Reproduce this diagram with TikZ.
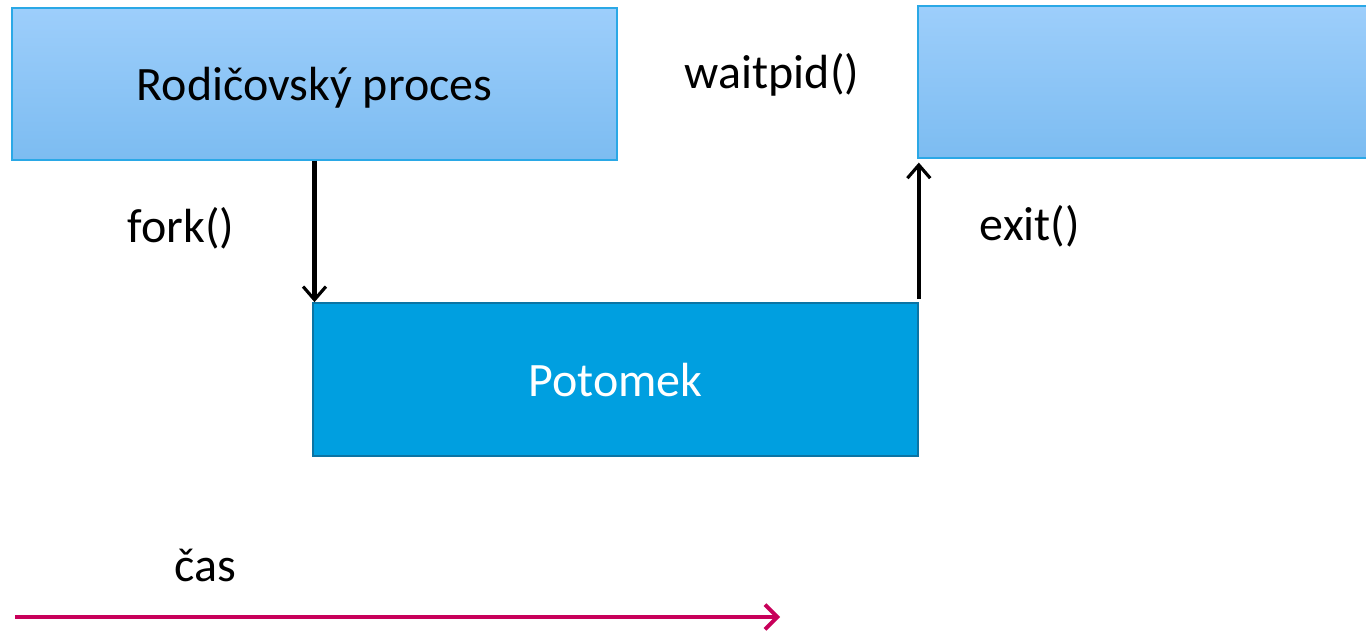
\documentclass[tikz,border=0pt]{standalone}
\usepackage{fontspec}
\setmainfont{Carlito}
\usetikzlibrary{arrows.meta,positioning}
\definecolor{lightproc}{HTML}{9DCEFB}
\definecolor{lightprocb}{HTML}{7CBCF1}
\definecolor{procline}{HTML}{2AA8E6}
\definecolor{childfill}{HTML}{009FE0}
\definecolor{childline}{HTML}{0B74A4}
\definecolor{timeline}{HTML}{C8005A}
\tikzset{
    >={Straight Barb[length=7.5pt,width=13pt,line width=1.8pt]},
    parentbox/.style={draw=procline, line width=0.7pt, top color=lightproc,
        bottom color=lightprocb, minimum width=12.1cm, minimum height=3.04cm,
        inner sep=0pt, text depth=0pt, font=\fontsize{27.3}{32}\selectfont},
    childbox/.style={draw=childline, line width=1pt, fill=childfill, text=white,
        minimum width=12.1cm, minimum height=3.06cm, inner sep=0pt,
        text depth=0pt, font=\fontsize{27.3}{32}\selectfont},
    call/.style={font=\fontsize{27.3}{32}\selectfont, inner sep=0pt},
    syscall/.style={->, draw=black, line width=2.3pt},
    timearrow/.style={->, draw=timeline, line width=2.6pt,
        >={Straight Barb[length=7pt,width=14pt,line width=2.2pt]}},
}

\begin{document}
\begin{tikzpicture}[x=0.02cm, y=-0.02cm]
\useasboundingbox (0,0) rectangle (1366,631);
% processes
\node[parentbox] (parent) at (314.5,84) {Rodičovský proces};
\node[parentbox, minimum width=9.04cm] (waitend) at (1144,82) {};
\node[childbox] (child) at (615.5,379.5) {Potomek};
% system calls
\node[call] (fork) at (181,228) {fork()};
\node[call] (waitpid) at (772,75) {waitpid()};
\node[call] (exit) at (1030,226) {exit()};
\draw[syscall] (parent.south) -- (parent.south |- child.north);
\draw[syscall] ([yshift=0.06cm]child.north east) -- ([yshift=-0.08cm]child.north east |- waitend.south);
% time axis
\node[call] (cas) at (205,565) {čas};
\coordinate (t0) at (15,617);
\coordinate (t1) at (780,617);
\draw[timearrow] (t0) -- (t1);
\end{tikzpicture}
\end{document}
